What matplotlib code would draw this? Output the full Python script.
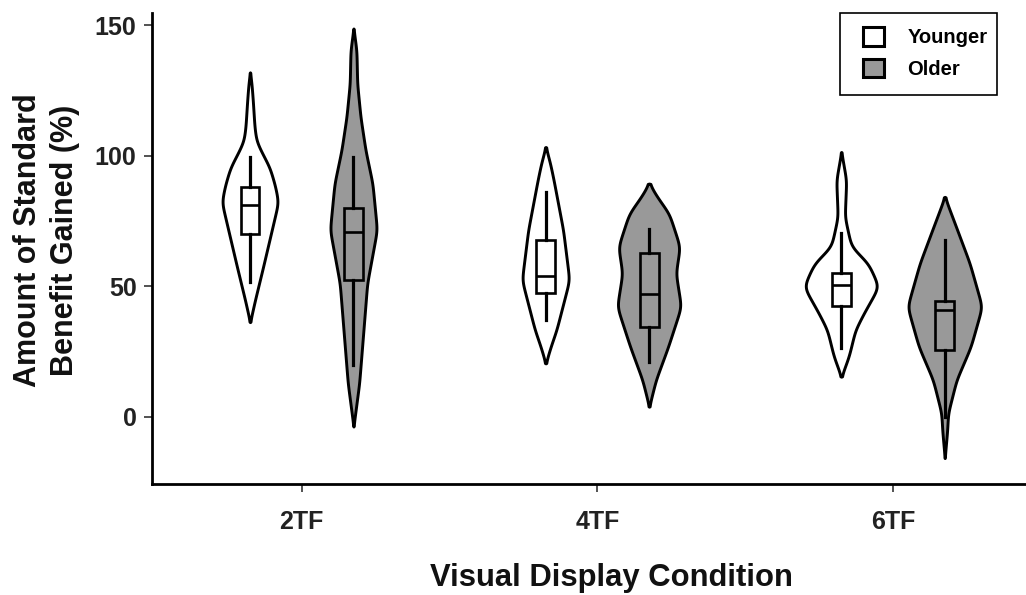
import numpy as np
import matplotlib
matplotlib.use("Agg")
import matplotlib.pyplot as plt
from matplotlib.patches import Patch, Rectangle

plt.rcParams['font.family'] = ['Liberation Sans', 'DejaVu Sans']
plt.rcParams['font.weight'] = 'bold'

conditions = ['2TF', '4TF', '6TF']
groups = ['Younger', 'Older']
fill_colors = {'Younger': '#ffffff', 'Older': '#999999'}

# Violin outlines: values (%) and relative density (half-width)
young_2tf_val = [131.9, 127.7, 121.2, 110.9, 105.6, 101.8, 95.4, 88.5, 82.2, 70.3, 57.3, 44.7, 36.2]
young_2tf_den = [0.0, 1.5, 2.8, 4.5, 6.3, 11.0, 19.7, 25.0, 28.3, 21.0, 13.0, 5.0, 0.0]
older_2tf_val = [148.7, 140.3, 127.6, 114.8, 102.1, 89.3, 71.5, 51.1, 31.9, 12.8, -3.8]
older_2tf_den = [0.0, 3.0, 3.7, 7.0, 12.0, 19.0, 23.5, 13.7, 9.7, 5.7, 0.0]
young_4tf_val = [103.3, 97.0, 90.6, 71.4, 52.3, 33.2, 26.8, 20.4]
young_4tf_den = [0.0, 4.5, 8.0, 17.5, 23.7, 10.8, 5.0, 0.0]
older_4tf_val = [89.3, 84.2, 77.8, 65.1, 54.9, 42.1, 26.8, 14.0, 3.8]
older_4tf_den = [0.0, 8.0, 20.0, 30.8, 26.7, 32.0, 19.0, 6.7, 0.0]
young_6tf_val = [101.4, 90.6, 76.5, 65.1, 58.7, 49.8, 39.6, 33.2, 23.0, 15.3]
young_6tf_den = [0.0, 5.0, 3.5, 10.0, 27.0, 37.5, 22.5, 14.0, 7.5, 0.0]
older_6tf_val = [84.2, 71.5, 58.7, 42.1, 26.8, 14.0, 1.3, -5.1, -15.9]
older_6tf_den = [0.0, 12.5, 25.0, 37.3, 26.0, 11.7, 3.3, 2.5, 0.0]

violins = {
    ('2TF', 'Younger'): (young_2tf_val, young_2tf_den),
    ('2TF', 'Older'): (older_2tf_val, older_2tf_den),
    ('4TF', 'Younger'): (young_4tf_val, young_4tf_den),
    ('4TF', 'Older'): (older_4tf_val, older_4tf_den),
    ('6TF', 'Younger'): (young_6tf_val, young_6tf_den),
    ('6TF', 'Older'): (older_6tf_val, older_6tf_den),
}

# Box statistics: whisker low, Q1, median, Q3, whisker high
box_whislo = {'2TF': [51.4, 19.8], '4TF': [37.0, 21.0], '6TF': [26.2, 0.0]}
box_q1 = {'2TF': [69.9, 52.3], '4TF': [47.5, 34.2], '6TF': [42.5, 25.5]}
box_med = {'2TF': [81.0, 70.8], '4TF': [54.0, 47.0], '6TF': [50.4, 40.8]}
box_q3 = {'2TF': [87.8, 79.8], '4TF': [67.6, 62.5], '6TF': [54.9, 44.4]}
box_whishi = {'2TF': [99.5, 99.5], '4TF': [86.1, 71.7], '6TF': [70.2, 67.6]}

fig = plt.figure(figsize=(10.26, 5.95), dpi=100)
ax = fig.add_axes([0.148, 0.1866, 0.852, 0.7914])

offset = 0.175
den_scale = 1.0 / 295.5
lw = 2.1

for ci, cond in enumerate(conditions):
    for gi, grp in enumerate(groups):
        center = ci + (-offset if gi == 0 else offset)
        vals, dens = violins[(cond, grp)]
        vals = np.array(vals)[::-1]
        dens = np.array(dens)[::-1]
        yy = np.linspace(vals[0], vals[-1], 600)
        ww = np.interp(yy, vals, dens)
        # smooth the outline for drawing
        step = yy[1] - yy[0]
        sig = 2.0 / step
        k = np.arange(-int(4 * sig), int(4 * sig) + 1)
        ker = np.exp(-0.5 * (k / sig) ** 2)
        ker /= ker.sum()
        ww = np.convolve(np.pad(ww, len(k) // 2, mode='edge'), ker, mode='valid')
        ww[0] = ww[-1] = 0.0
        ww = np.maximum(ww, 0.0) * den_scale
        ax.fill_betweenx(yy, center - ww, center + ww, facecolor=fill_colors[grp],
                         edgecolor='black', linewidth=lw, zorder=2)
        stats = [dict(whislo=box_whislo[cond][gi], q1=box_q1[cond][gi], med=box_med[cond][gi],
                      q3=box_q3[cond][gi], whishi=box_whishi[cond][gi], fliers=[])]
        ax.bxp(stats, positions=[center], widths=0.064, showcaps=False, showfliers=False,
               patch_artist=True, manage_ticks=False,
               boxprops=dict(facecolor=fill_colors[grp], edgecolor='black', linewidth=1.9),
               medianprops=dict(color='black', linewidth=1.9),
               whiskerprops=dict(color='black', linewidth=2.3),
               zorder=3)

ax.set_xlim(-0.507, 2.45)
ax.set_ylim(-25.8, 154.6)
ax.set_xticks(range(len(conditions)))
ax.set_xticklabels(conditions)
ax.set_yticks([0, 50, 100, 150])

for s in ['top', 'right']:
    ax.spines[s].set_visible(False)
for s in ['left', 'bottom']:
    ax.spines[s].set_linewidth(2.0)
ax.tick_params(axis='both', length=6, width=1.3, color='#444444', labelsize=18, pad=5)
ax.tick_params(axis='x', pad=13)
for lab in ax.get_xticklabels() + ax.get_yticklabels():
    lab.set_fontweight('bold')
    lab.set_color('#222222')

ax.text(0.526, -0.1996, 'Visual Display Condition', transform=ax.transAxes,
        fontsize=22.3, fontweight='bold', ha='center', va='center', color='#111111')
ax.text(-0.1201, 0.518, 'Amount of Standard\nBenefit Gained (%)', transform=ax.transAxes,
        fontsize=22, fontweight='bold', ha='center', va='center', rotation=90,
        multialignment='center', linespacing=1.3, color='#111111')

# legend frame and entries
ax.add_patch(Rectangle((0.7872, 0.826), 0.1796, 0.174, transform=ax.transAxes,
                       facecolor='white', edgecolor='black', linewidth=1.2,
                       clip_on=False, zorder=4))
handles = [Patch(facecolor=fill_colors[g], edgecolor='black', linewidth=2.2, label=g) for g in groups]
leg = ax.legend(handles=handles, loc='upper left', bbox_to_anchor=(0.8135, 0.970),
                frameon=False, fontsize=14.5, handlelength=1.05,
                handleheight=1.05, handletextpad=1.15, borderpad=0.0, labelspacing=0.55,
                borderaxespad=0.0)
leg.set_zorder(5)
for t in leg.get_texts():
    t.set_fontweight('bold')

fig.savefig('out.png', dpi=100)
